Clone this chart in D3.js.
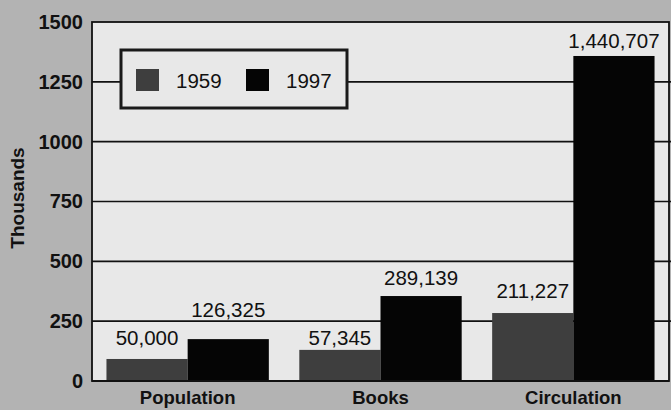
<!DOCTYPE html>
<html>
<head>
<meta charset="utf-8">
<script src="https://cdn.jsdelivr.net/npm/d3@7"></script>
<style>
  html, body { margin: 0; padding: 0; background: #b3b3b3; }
  svg { display: block; }
  text { font-family: "Liberation Sans", Arial, sans-serif; }
</style>
</head>
<body>
<script>
// data
const categories = ["Population", "Books", "Circulation"]
const years = ["1959", "1997"]
// bar heights as drawn (thousands)
const values1959 = [92, 130, 284]
const values1997 = [175, 355, 1358]
// printed value labels
const labels1959 = ["50,000", "57,345", "211,227"]
const labels1997 = ["126,325", "289,139", "1,440,707"]
const yTicks = [0, 250, 500, 750, 1000, 1250, 1500]

const width = 671, height = 410
const margin = { top: 22, right: 2, bottom: 29, left: 92 }
const colors = { "1959": "#3e3e3e", "1997": "#050505" }

// label lift above the bar top, px (the original places these by hand)
const lift = { "1959": [14, 5, 15], "1997": [22, 11, 8] }

const svg = d3.select("body").append("svg")
    .attr("width", width)
    .attr("height", height)

svg.append("rect")
    .attr("width", width).attr("height", height)
    .attr("fill", "#b3b3b3")

const x = d3.scaleBand()
    .domain(categories)
    .range([margin.left, width - margin.right])
    .paddingInner(0.158)
    .paddingOuter(0.075)

const x1 = d3.scaleBand()
    .domain(years)
    .range([0, x.bandwidth()])

const y = d3.scaleLinear()
    .domain([0, 1500])
    .range([height - margin.bottom, margin.top])

// plot panel
svg.append("rect")
    .attr("x", margin.left)
    .attr("y", y(1500))
    .attr("width", width - margin.right - margin.left)
    .attr("height", y(0) - y(1500))
    .attr("fill", "#e8e8e8")

// gridlines
svg.append("g")
    .selectAll("line")
    .data(yTicks.filter(d => d > 0 && d < 1500))
    .join("line")
    .attr("x1", margin.left)
    .attr("x2", width)
    .attr("y1", d => y(d))
    .attr("y2", d => y(d))
    .attr("stroke", "#111")
    .attr("stroke-width", 1.6)

// frame
svg.append("rect")
    .attr("x", margin.left)
    .attr("y", y(1500))
    .attr("width", width - margin.right - margin.left)
    .attr("height", y(0) - y(1500))
    .attr("fill", "none")
    .attr("stroke", "#111")
    .attr("stroke-width", 1.8)

// bars
const rows = categories.map((c, i) => ({
    cat: c,
    bars: [
        { year: "1959", value: values1959[i], label: labels1959[i], i },
        { year: "1997", value: values1997[i], label: labels1997[i], i }
    ]
}))

const groups = svg.append("g")
    .selectAll("g")
    .data(rows)
    .join("g")
    .attr("transform", d => `translate(${x(d.cat)},0)`)

groups.selectAll("rect")
    .data(d => d.bars)
    .join("rect")
    .attr("x", d => x1(d.year))
    .attr("y", d => y(d.value))
    .attr("width", x1.bandwidth())
    .attr("height", d => y(0) - y(d.value))
    .attr("fill", d => colors[d.year])

groups.selectAll("text")
    .data(d => d.bars)
    .join("text")
    .attr("x", d => x1(d.year) + x1.bandwidth() / 2)
    .attr("y", d => y(d.value) - lift[d.year][d.i])
    .attr("text-anchor", "middle")
    .attr("font-size", 20.5)
    .attr("fill", "#111")
    .text(d => d.label)

// x axis baseline
svg.append("line")
    .attr("x1", margin.left)
    .attr("x2", width - margin.right)
    .attr("y1", y(0))
    .attr("y2", y(0))
    .attr("stroke", "#111")
    .attr("stroke-width", 2)

// y axis
const yAxis = svg.append("g")
    .attr("transform", `translate(${margin.left},0)`)
    .call(d3.axisLeft(y).tickValues(yTicks).tickFormat(d3.format("d")).tickSize(0).tickPadding(9))
yAxis.select(".domain").remove()
yAxis.selectAll("text")
    .attr("font-size", 20)
    .attr("font-weight", "bold")
    .attr("fill", "#111")
    .attr("font-family", null)

// x labels
svg.append("g")
    .selectAll("text")
    .data(categories)
    .join("text")
    .attr("x", d => x(d) + x.bandwidth() / 2)
    .attr("y", 404)
    .attr("text-anchor", "middle")
    .attr("font-size", 18.5)
    .attr("font-weight", "bold")
    .attr("fill", "#111")
    .text(d => d)

// y title
svg.append("text")
    .attr("transform", `translate(24,${198}) rotate(-90)`)
    .attr("text-anchor", "middle")
    .attr("font-size", 19)
    .attr("font-weight", "bold")
    .attr("fill", "#111")
    .text("Thousands")

// legend
const legend = svg.append("g")
legend.append("rect")
    .attr("x", 121).attr("y", 50)
    .attr("width", 226).attr("height", 58)
    .attr("fill", "#e8e8e8")
    .attr("stroke", "#1a1a1a")
    .attr("stroke-width", 3)

const legendX = d3.scalePoint().domain(years).range([136, 246])
const items = legend.selectAll("g.item")
    .data(years)
    .join("g")
    .attr("class", "item")
    .attr("transform", d => `translate(${legendX(d)},69)`)
items.append("rect")
    .attr("width", 23).attr("height", 22)
    .attr("fill", d => colors[d])
items.append("text")
    .attr("x", 40)
    .attr("y", 19)
    .attr("font-size", 20.5)
    .attr("fill", "#111")
    .text(d => d)
</script>
</body>
</html>
